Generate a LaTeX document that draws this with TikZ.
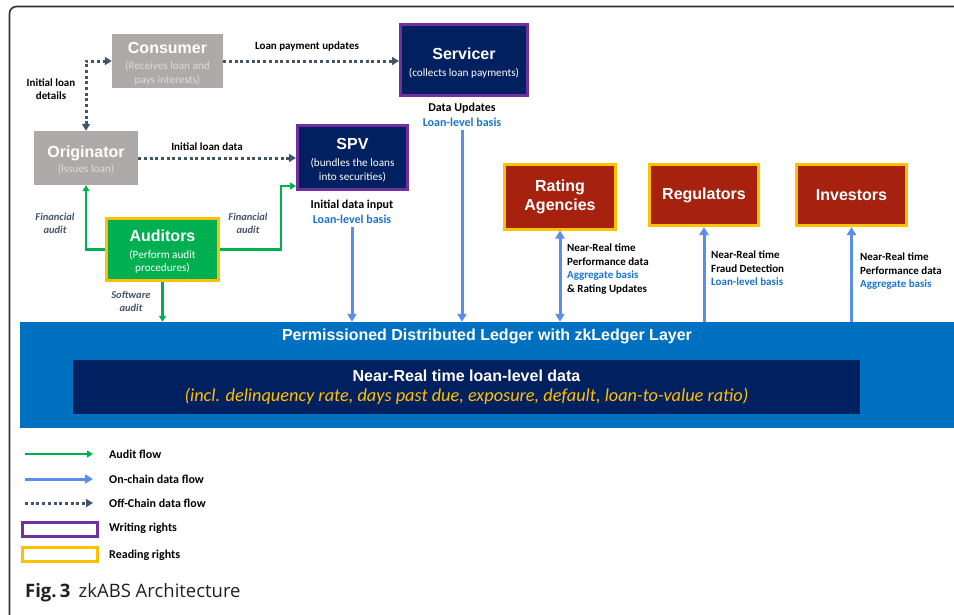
\documentclass[tikz,border=0pt]{standalone}
\usepackage{fontspec}
\setmainfont{Carlito}
\newfontfamily\arialfont{Liberation Sans}
\newfontfamily\capfont{Open Sans}
\usetikzlibrary{arrows.meta,positioning,calc}

\definecolor{boxgray}{HTML}{AEAAAA}
\definecolor{subgray}{HTML}{DEDBDB}
\definecolor{navyblue}{HTML}{002060}
\definecolor{writepurple}{HTML}{7030A0}
\definecolor{readyellow}{HTML}{FFC000}
\definecolor{auditgreen}{HTML}{00B050}
\definecolor{agencyred}{HTML}{A6220F}
\definecolor{ledgerblue}{HTML}{0070C0}
\definecolor{chainblue}{HTML}{5A8DEE}
\definecolor{textblue}{HTML}{1874CD}
\definecolor{offgray}{HTML}{44546A}
\definecolor{framegray}{HTML}{333333}
\definecolor{captext}{HTML}{231F20}

\newcommand{\boxtitlefont}{\arialfont\bfseries\fontsize{16}{19}\selectfont}
\newcommand{\boxsubfont}{\fontsize{11.2}{13.5}\selectfont}
\newcommand{\flowlabelfont}{\bfseries\fontsize{11}{13.5}\selectfont}
\newcommand{\biglabelfont}{\bfseries\fontsize{12}{15}\selectfont}
\newcommand{\auditlabelfont}{\bfseries\itshape\fontsize{10.5}{13}\selectfont}
\newcommand{\titlestrut}{\rule{0pt}{16pt}}

\tikzset{
  graybox/.style={fill=boxgray, text=subgray, align=center, font=\boxsubfont, inner sep=2pt},
  writebox/.style={fill=navyblue, draw=writepurple, line width=3pt, text=white, align=center, font=\boxsubfont, inner sep=2pt},
  auditbox/.style={fill=auditgreen, draw=readyellow, line width=3pt, text=white, align=center, font=\boxsubfont, inner sep=2pt},
  readbox/.style={fill=agencyred, draw=readyellow, line width=3pt, text=white, align=center, font=\boxtitlefont, inner sep=2pt},
  flowlabel/.style={font=\flowlabelfont, align=center, inner sep=3pt},
  auditlabel/.style={font=\auditlabelfont, text=offgray, align=center, inner sep=2pt},
  legendtext/.style={font=\bfseries\fontsize{12}{13}\selectfont, anchor=west, inner sep=3pt},
  offchain/.style={draw=offgray, line width=3pt, dash pattern=on 3pt off 2.7pt, >={Triangle[length=7pt,width=8pt]}},
  onchain/.style={draw=chainblue, line width=3pt, >={Triangle[length=8pt,width=9pt]}},
  audit/.style={draw=auditgreen, line width=2.4pt, >={Triangle[length=6pt,width=7pt]}},
}

\begin{document}
\begin{tikzpicture}[x=1pt,y=-1pt]
\useasboundingbox (0,0) rectangle (954,614);
% outer frame
\draw[framegray, line width=1.6pt, rounded corners=7pt] (9.5,650) -- (9.5,6.5) -- (990,6.5);

% off-chain parties
\node[graybox, minimum width=111pt, minimum height=54pt] (Consumer) at (167.5,61)
  {{\boxtitlefont\color{white}\titlestrut Consumer}\\[3pt](Receives loan and\\pays interests)};
\node[graybox, minimum width=104pt, minimum height=54pt] (Originator) at (86,158)
  {{\boxtitlefont\color{white}\titlestrut Originator}\\[2pt](Issues loan)};

% writing rights
\node[writebox, minimum width=127pt, minimum height=71pt] (Servicer) at (464,60)
  {{\boxtitlefont\rule{0pt}{18pt}Servicer}\\[4pt](collects loan payments)};
\node[writebox, minimum width=110pt, minimum height=64pt] (SPV) at (352.5,157.5)
  {{\boxtitlefont\titlestrut SPV}\\[4pt](bundles the loans\\into securities)};
\node[auditbox, minimum width=112pt, minimum height=62pt] (Auditors) at (162.5,249.5)
  {{\boxtitlefont\titlestrut Auditors}\\[3pt](Perform audit\\procedures)};

% reading rights
\node[readbox, minimum width=111pt, minimum height=65pt] (Rating) at (560,196.5) {Rating\\Agencies};
\node[readbox, minimum width=109pt, minimum height=61pt] (Regulators) at (704,195) {Regulators};
\node[readbox, minimum width=110pt, minimum height=61pt] (Investors) at (851.5,195) {Investors};

% ledger
\node[fill=ledgerblue, minimum width=934pt, minimum height=106pt, inner sep=0pt] (Ledger) at (487,375) {};
\node[text=white, font=\boxtitlefont, inner sep=0pt] (ledgertitle) at (487,336)
  {Permissioned Distributed Ledger with zkLedger Layer};
\node[fill=navyblue, minimum width=787pt, minimum height=54pt, inner sep=0pt, align=center,
  font=\fontsize{16}{20}\selectfont] (ledgerdata) at (466.5,387)
  {{\boxtitlefont\color{white}Near-Real time loan-level data}\\
   {\color{readyellow}\itshape\fontsize{18.3}{20}\selectfont(incl. delinquency rate, days past due, exposure, default, loan-to-value ratio)}};

% labels
\node[flowlabel] (paylabel) at (307,47) {Loan payment updates};
\node[flowlabel] (detailslabel) at (51,89) {Initial loan\\details};
\node[flowlabel] (initlabel) at (207,147) {Initial loan data};
\node[auditlabel] (finleft) at (55,223) {Financial\\audit};
\node[auditlabel] (finright) at (248,223) {Financial\\audit};
\node[auditlabel] (softlabel) at (131,301) {Software\\audit};
\node[flowlabel, font=\biglabelfont] (servlabel) at (462,115) {Data Updates\\\textcolor{textblue}{Loan-level basis}};
\node[flowlabel, font=\biglabelfont] (spvlabel) at (352,212) {Initial data input\\\textcolor{textblue}{Loan-level basis}};
\node[flowlabel, align=left, anchor=west] (ratinglabel) at (564,269)
  {Near-Real time\\Performance data\\\textcolor{textblue}{Aggregate basis}\\\& Rating Updates};
\node[flowlabel, align=left, anchor=west] (reglabel) at (708,268.5)
  {Near-Real time\\Fraud Detection\\\textcolor{textblue}{Loan-level basis}};
\node[flowlabel, align=left, anchor=west] (invlabel) at (857,271.5)
  {Near-Real time\\Performance data\\\textcolor{textblue}{Aggregate basis}};

% off-chain flows
\draw[offchain,->] (Consumer.east) -- (Consumer.east -| Servicer.west);
\draw[offchain,<->] (Originator.north) |- (Consumer.west);
\draw[offchain,->] (Originator.east) -- (Originator.east -| SPV.west);

% audit flows
\draw[audit,->] (Auditors.west) -| (Originator.south);
\draw[audit,->] (Auditors.east) -- ++(61,0) |- ([yshift=5pt]SPV.south west);
\draw[audit,->] (Auditors.south) -- (Auditors.south |- Ledger.north);

% on-chain flows
\draw[onchain,->] (spvlabel.south) -- (spvlabel.south |- Ledger.north);
\draw[onchain,->] (servlabel.south) -- (servlabel.south |- Ledger.north);
\draw[onchain,<->] (Rating.south) -- (Rating.south |- Ledger.north);
\draw[onchain,->] (Regulators.south |- Ledger.north) -- (Regulators.south);
\draw[onchain,->] (Investors.south |- Ledger.north) -- (Investors.south);

% legend
\foreach \ly/\lsty/\ltxt [count=\i] in {454/audit/Audit flow,479/onchain/On-chain data flow,503/offchain/Off-Chain data flow} {
  \coordinate (legstart\i) at (25,\ly);
  \coordinate (legend\i) at (93,\ly);
  \draw[\lsty,->] (legstart\i) -- (legend\i);
  \node[legendtext] (legtext\i) at (106,\ly) {\ltxt};
}
\node[draw=writepurple, line width=3pt, minimum width=75pt, minimum height=14pt, inner sep=0pt] (writekey) at (60,529.5) {};
\node[legendtext] (writetext) at (106,528) {Writing rights};
\node[draw=readyellow, line width=3pt, minimum width=75pt, minimum height=14pt, inner sep=0pt] (readkey) at (60,554.5) {};
\node[legendtext] (readtext) at (106,555) {Reading rights};

% caption
\node[anchor=base west, inner sep=0pt, text=captext, font=\capfont\fontsize{18.5}{22}\selectfont] (caption) at (25,597)
  {\textbf{Fig.\,3}\hspace{0.45em}zkABS Architecture};
\end{tikzpicture}
\end{document}
